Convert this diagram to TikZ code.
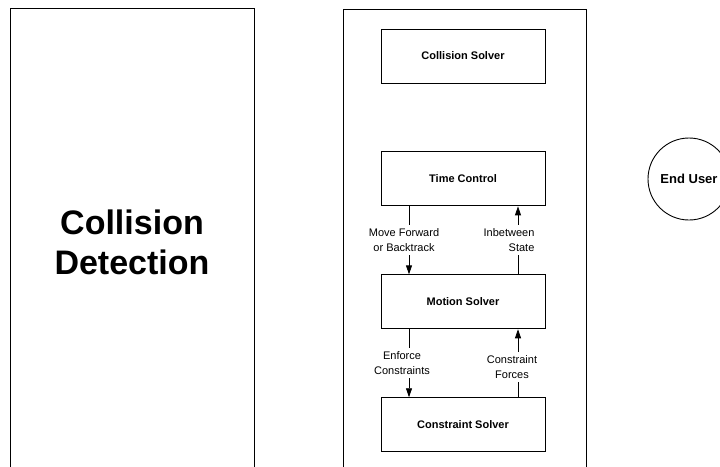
\documentclass[tikz,border=0pt]{standalone}
\usepackage{fontspec}
\setmainfont{Liberation Sans}
\usetikzlibrary{positioning, arrows.meta}

\begin{document}
\begin{tikzpicture}[x=1pt, y=-1pt,
    bigbox/.style={draw, line width=1pt, minimum width=244pt, minimum height=468pt, align=center, font=\fontsize{34}{40}\selectfont\bfseries},
    frame/.style={draw, line width=1pt, minimum width=243pt, minimum height=466pt},
    solverbox/.style={draw, line width=0.9pt, minimum width=164pt, minimum height=54pt, font=\fontsize{11}{13}\selectfont\bfseries},
    flowlabel/.style={fill=white, inner xsep=2pt, inner ysep=3.5pt, align=center, font=\fontsize{11}{15}\selectfont},
    flow/.style={line width=0.8pt, -{Triangle[length=9pt, width=6pt]}}]

\useasboundingbox (0,0) rectangle (720,466);
\clip (0,0) rectangle (720,466);

% Collision Detection
\node[bigbox] (detect) at (132,242) {Collision\\Detection};

% Solver frame
\node[frame] (frame) at (464.5,242) {};

% Solver boxes
\node[solverbox] (collide) at (463,56) {Collision Solver};
\node[solverbox, below=68pt of collide] (time) {Time Control};
\node[solverbox, below=68pt of time] (motion) {Motion Solver};
\node[solverbox, below=68pt of motion] (constraint) {Constraint Solver};

% End User
\node[draw, circle, line width=0.9pt, minimum size=82pt, inner sep=0pt, font=\fontsize{13}{15}\selectfont\bfseries] (user) at (689,179) {End User};

% Arrow columns
\coordinate (down) at (409,0);
\coordinate (up) at (518,0);

\draw[flow] (time.south -| down) -- node[flowlabel, xshift=-5pt] {Move Forward\\or Backtrack} (motion.north -| down);
\draw[flow] (motion.north -| up) -- node[flowlabel, xshift=-9pt, align=right] {Inbetween\\State} (time.south -| up);
\draw[flow] (motion.south -| down) -- node[flowlabel, xshift=-7pt] {Enforce\\Constraints} (constraint.north -| down);
\draw[flow] (constraint.north -| up) -- node[flowlabel, xshift=-6pt, pos=0.45] {Constraint\\Forces} (motion.south -| up);

\end{tikzpicture}
\end{document}
